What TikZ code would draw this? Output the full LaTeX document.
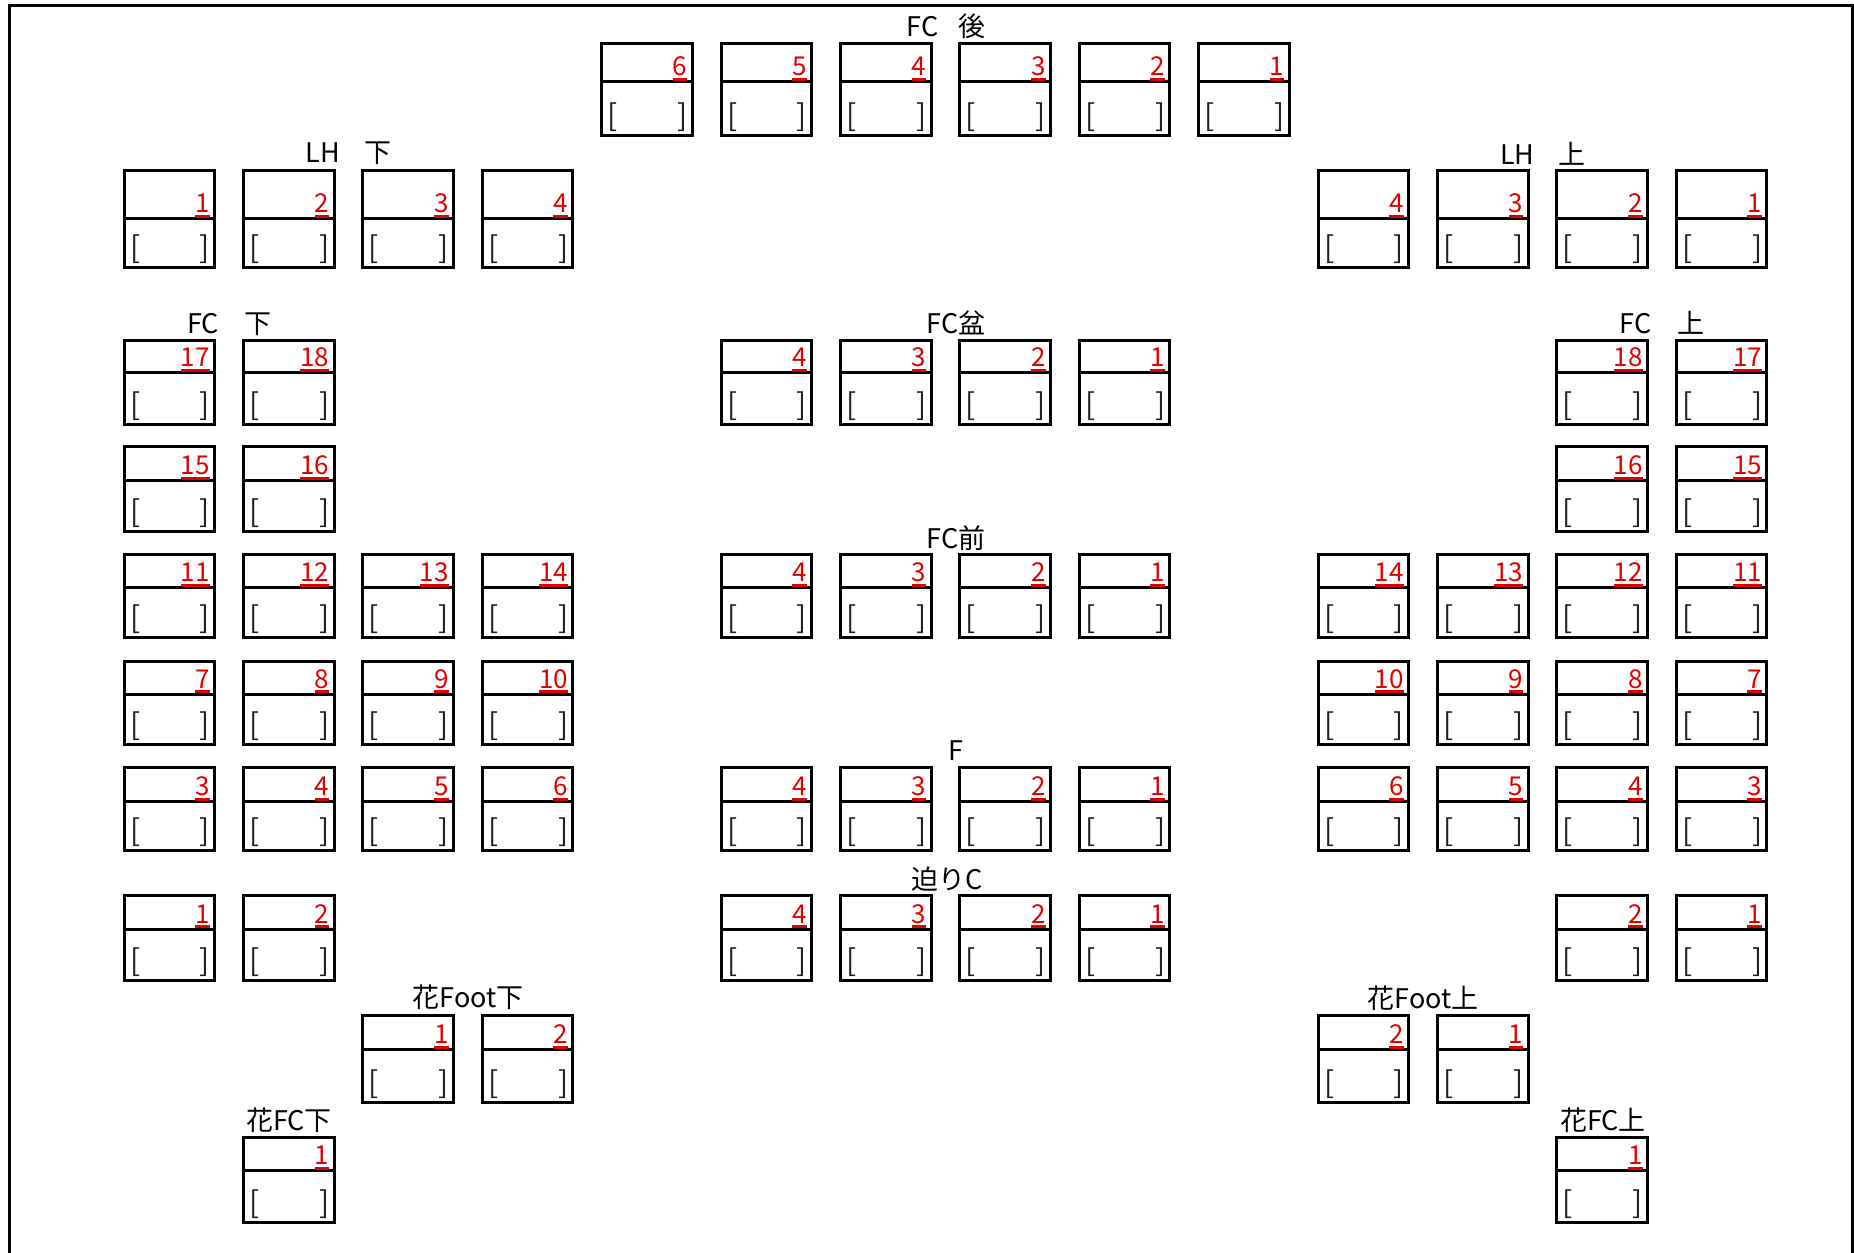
\documentclass[tikz,border=0pt]{standalone}
\usepackage{fontspec}
\setmainfont{Noto Sans CJK JP}
\definecolor{numred}{RGB}{225,0,0}
\definecolor{brkgray}{RGB}{30,30,30}
\newcommand\rul[1]{\setbox0\hbox{#1}\rlap{\color{numred}\rule[-2.6pt]{\wd0}{1.5pt}}\box0}
\tikzset{
  seatbox/.style={draw=black, line width=1.5pt, inner sep=0pt, outer sep=0pt, minimum width=45.35pt},
  seatline/.style={draw=black, line width=1.5pt},
  numtxt/.style={inner sep=0pt, outer sep=0pt, text=numred, font=\fontsize{13pt}{13pt}\selectfont},
  brktxt/.style={inner sep=0pt, outer sep=0pt, text=brkgray, font=\fontsize{15pt}{15pt}\selectfont},
  lbl/.style={inner sep=0pt, outer sep=0pt, text=black, font=\fontsize{13.5pt}{13.5pt}\selectfont, anchor=base},
  frameline/.style={draw=black, line width=1.5pt}
}
% #1 row id, #2 top, #3 divider, #4 bottom, #5 column, #6 number
\newcommand\seat[6]{%
  \pgfmathsetmacro\xl{124+119.4*#5}%
  \pgfmathsetmacro\xr{\xl+90.7}%
  \node[seatbox, minimum height={(#4-#2)*0.5pt}, anchor=north west] (s#1c#5) at (\xl,#2) {};
  \coordinate (s#1c#5dl) at (\xl,#3);
  \coordinate (s#1c#5dr) at (\xr,#3);
  \draw[seatline] (s#1c#5dl) -- (s#1c#5dr);
  \node[numtxt, anchor=base east] (s#1c#5n) at (\xr-5,#3-6) {\rul{#6}};
  \node[brktxt, anchor=base west] (s#1c#5b) at (\xl+6,#4-9) {\makebox[40pt]{[\hfill]}};
}
\begin{document}
\begin{tikzpicture}[x=0.5pt,y=-0.5pt]
\useasboundingbox (0,0) rectangle (1854,1253);
\coordinate (fbl) at (9.5,1260);
\coordinate (ftl) at (9.5,5.3);
\coordinate (ftr) at (1852.3,5.3);
\coordinate (fbr) at (1852.3,1260);
\draw[frameline] (fbl) -- (ftl) -- (ftr) -- (fbr);

% Row 1: FC 後
\foreach \c/\n in {4/6,5/5,6/4,7/3,8/2,9/1} {\seat{a}{43.8}{81.3}{135.2}{\c}{\n}}
% Row 2: LH
\foreach \c/\n in {0/1,1/2,2/3,3/4,10/4,11/3,12/2,13/1} {\seat{b}{170.6}{218.6}{267.4}{\c}{\n}}
% Row 3
\foreach \c/\n in {0/17,1/18,5/4,6/3,7/2,8/1,12/18,13/17} {\seat{c}{340.6}{372.8}{424}{\c}{\n}}
% Row 4
\foreach \c/\n in {0/15,1/16,12/16,13/15} {\seat{d}{446.3}{480.6}{531.4}{\c}{\n}}
% Row 5
\foreach \c/\n in {0/11,1/12,2/13,3/14,5/4,6/3,7/2,8/1,10/14,11/13,12/12,13/11} {\seat{e}{554}{587.8}{637.7}{\c}{\n}}
% Row 6
\foreach \c/\n in {0/7,1/8,2/9,3/10,10/10,11/9,12/8,13/7} {\seat{f}{661}{694}{744}{\c}{\n}}
% Row 7
\foreach \c/\n in {0/3,1/4,2/5,3/6,5/4,6/3,7/2,8/1,10/6,11/5,12/4,13/3} {\seat{g}{767.3}{801.3}{850.4}{\c}{\n}}
% Row 8
\foreach \c/\n in {0/1,1/2,5/4,6/3,7/2,8/1,12/2,13/1} {\seat{h}{895.3}{929}{980.7}{\c}{\n}}
% Row 9
\foreach \c/\n in {2/1,3/2,10/2,11/1} {\seat{i}{1015.3}{1049.5}{1102}{\c}{\n}}
% Row 10
\foreach \c/\n in {1/1,12/1} {\seat{j}{1137.3}{1170.3}{1222.4}{\c}{\n}}

% Labels
\node[lbl] (lfcback) at (946,36) {FC\hspace{0.75em}後};
\node[lbl] (llhlo) at (348.8,162) {LH\hspace{0.9em}下};
\node[lbl] (llhup) at (1543,164) {LH\hspace{0.9em}上};
\node[lbl] (lfclo) at (229.5,333) {FC\hspace{0.95em}下};
\node[lbl] (lfcbon) at (956,333) {FC盆};
\node[lbl] (lfcup) at (1662,333) {FC\hspace{0.95em}上};
\node[lbl] (lfcfront) at (956,548) {FC前};
\node[lbl] (lf) at (956,760) {F};
\node[lbl] (lseri) at (946.7,889) {迫りC};
\node[lbl] (lfootlo) at (468,1007) {花Foot下};
\node[lbl] (lfootup) at (1423,1008) {花Foot上};
\node[lbl] (lhfclo) at (289,1130) {花FC下};
\node[lbl] (lhfcup) at (1603,1130) {花FC上};
\end{tikzpicture}
\end{document}
